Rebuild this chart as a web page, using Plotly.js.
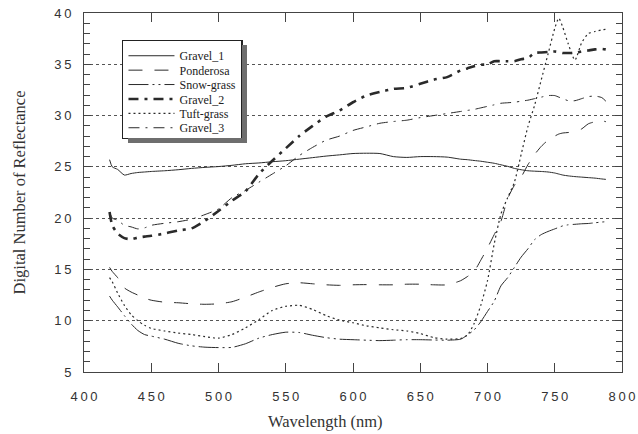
<!DOCTYPE html>
<html>
<head>
<meta charset="utf-8">
<script src="https://cdn.plot.ly/plotly-3.0.1.min.js"></script>
<style>
  html, body { margin: 0; padding: 0; background: #fff; }
  #chart { width: 638px; height: 434px; }
  .legend-shadow { position: absolute; background: #6e6e6e; pointer-events: none; }
</style>
</head>
<body>
<div id="chart"></div>
<script>
// Common wavelength grid (nm)
var wavelength = [419, 421, 425, 430, 435, 440, 445, 450, 460, 470, 480, 490, 500, 510, 520, 530, 540, 550, 560, 570, 580, 590, 600, 610, 620, 630, 640, 650, 660, 670, 680, 685, 690, 695, 700, 705, 710, 715, 720, 725, 730, 735, 740, 745, 750, 753, 756, 760, 765, 770, 775, 780, 785, 788];

var gravel1 = [25.7, 25.0, 24.75, 24.2, 24.35, 24.45, 24.5, 24.55, 24.62, 24.72, 24.85, 24.95, 25.03, 25.15, 25.3, 25.38, 25.5, 25.6, 25.75, 25.9, 26.05, 26.17, 26.3, 26.33, 26.3, 26.0, 25.92, 26.0, 26.0, 25.95, 25.75, 25.7, 25.62, 25.55, 25.45, 25.35, 25.2, 25.05, 24.85, 24.72, 24.62, 24.58, 24.55, 24.5, 24.4, 24.3, 24.2, 24.12, 24.05, 24.0, 23.95, 23.9, 23.82, 23.78];

var ponderosa = [15.2, 14.8, 14.2, 13.2, 12.8, 12.5, 12.2, 12.0, 11.8, 11.75, 11.65, 11.6, 11.65, 11.85, 12.3, 12.8, 13.25, 13.6, 13.7, 13.6, 13.5, 13.45, 13.5, 13.52, 13.5, 13.5, 13.56, 13.56, 13.5, 13.5, 13.9, 14.3, 14.8, 15.9, 17.1, 18.4, 19.7, 21.9, 23.2, 24.0, 25.2, 26.2, 27.0, 27.6, 28.0, 28.2, 28.3, 28.35, 28.45, 28.7, 29.2, 29.4, 29.5, 29.4];

var snowGrass = [12.4, 12.0, 11.35, 10.5, 9.7, 9.05, 8.65, 8.5, 8.2, 7.8, 7.55, 7.42, 7.38, 7.4, 7.75, 8.3, 8.65, 8.88, 8.85, 8.58, 8.35, 8.2, 8.15, 8.1, 8.06, 8.1, 8.15, 8.15, 8.12, 8.1, 8.2, 8.6, 9.1, 9.9, 10.9, 11.9, 13.4, 14.2, 15.2, 16.2, 17.0, 17.9, 18.4, 18.7, 18.95, 19.1, 19.25, 19.35, 19.4, 19.45, 19.48, 19.55, 19.62, 19.65];

var gravel2 = [20.6, 19.3, 18.5, 18.05, 17.95, 18.1, 18.2, 18.28, 18.5, 18.8, 19.0, 19.75, 20.7, 21.7, 22.6, 24.3, 25.6, 26.8, 28.0, 29.0, 29.9, 30.5, 31.3, 31.95, 32.3, 32.6, 32.7, 33.1, 33.5, 33.75, 34.4, 34.6, 34.8, 34.95, 35.0, 35.3, 35.3, 35.3, 35.3, 35.5, 35.6, 36.1, 36.15, 36.2, 36.25, 36.2, 36.1, 36.1, 36.1, 36.25, 36.35, 36.45, 36.5, 36.45];

var tuftGrass = [14.2, 13.8, 12.7, 11.5, 10.6, 10.0, 9.55, 9.25, 9.0, 8.8, 8.65, 8.45, 8.3, 8.65, 9.3, 10.1, 11.0, 11.4, 11.5, 11.1, 10.5, 10.05, 9.8, 9.5, 9.3, 9.12, 9.0, 8.75, 8.35, 8.2, 8.26, 8.6, 9.7, 11.5, 13.9, 17.5, 20.4, 22.0, 23.5, 26.2, 28.9, 31.0, 33.5, 36.0, 38.5, 39.5, 38.6, 37.0, 35.4, 37.1, 38.0, 38.2, 38.35, 38.4];

var gravel3 = [20.6, 20.0, 19.8, 19.3, 19.15, 18.95, 19.05, 19.3, 19.5, 19.65, 19.9, 20.35, 20.9, 22.0, 22.7, 23.5, 24.3, 25.1, 26.1, 26.9, 27.6, 28.0, 28.55, 28.9, 29.25, 29.42, 29.55, 29.8, 30.0, 30.2, 30.4, 30.5, 30.6, 30.75, 30.9, 31.05, 31.2, 31.25, 31.3, 31.4, 31.5, 31.65, 31.8, 31.95, 31.95, 31.8, 31.65, 31.45, 31.45, 31.65, 31.85, 31.9, 31.75, 31.4];

var seriesNames = ["Gravel_1", "Ponderosa", "Snow-grass", "Gravel_2", "Tuft-grass", "Gravel_3"];
var seriesValues = [gravel1, ponderosa, snowGrass, gravel2, tuftGrass, gravel3];
var xTickVals = [400, 450, 500, 550, 600, 650, 700, 750, 800];
var yTickVals = [5, 10, 15, 20, 25, 30, 35, 40];

var SERIF = "Liberation Serif";
var SANS = "Liberation Sans";

var styles = [
  { width: 1,   dash: "solid" },
  { width: 1,   dash: "14px,12px" },
  { width: 1,   dash: "20px,4px,2px,4px,2px,4px" },
  { width: 2.6, dash: "10px,6px,3px,6px" },
  { width: 1.2, dash: "2px,3px" },
  { width: 1,   dash: "11px,6px,2px,6px" }
];

function spaced(v) { return String(v).split("").join("\u2009"); }

var traces = seriesNames.map(function (name, i) {
  return {
    type: "scatter", mode: "lines", name: name,
    x: wavelength, y: seriesValues[i],
    line: { color: "#2a2a2a", width: styles[i].width, dash: styles[i].dash, shape: "spline", smoothing: 0.6 },
    hoverinfo: "skip"
  };
});

var layout = {
  width: 638, height: 434,
  margin: { l: 84, r: 16, t: 13, b: 62 },
  paper_bgcolor: "#fff", plot_bgcolor: "#fff",
  font: { family: SANS },
  showlegend: true,
  legend: {
    x: 0.0706, y: 0.9255, xanchor: "left", yanchor: "top",
    bgcolor: "#fff", bordercolor: "#222", borderwidth: 1.5,
    font: { family: SERIF, size: 12, color: "#222" },
    itemwidth: 46, tracegroupgap: 0
  },
  xaxis: {
    range: [400, 800], tickmode: "array", tickvals: xTickVals, ticktext: xTickVals.map(spaced),
    ticks: "inside", ticklen: 9, tickcolor: "#444", showline: true, linecolor: "#444", linewidth: 1,
    mirror: "ticks", showgrid: false, zeroline: false, ticklabelstandoff: 12,
    tickfont: { family: SANS, size: 13, color: "#333" }
  },
  yaxis: {
    range: [5, 40], tickmode: "array", tickvals: yTickVals, ticktext: yTickVals.map(spaced),
    ticks: "inside", ticklen: 7, tickcolor: "#444", showline: true, linecolor: "#444", linewidth: 1,
    mirror: "ticks", showgrid: true, gridcolor: "#555", griddash: "dot", gridwidth: 1, zeroline: false,
    minor: { dtick: 1, ticks: "inside", ticklen: 6, tickcolor: "#444", showgrid: false },
    ticklabelstandoff: 9,
    tickfont: { family: SANS, size: 13, color: "#333" },
    title: { text: "Digital Number of Reflectance", standoff: 24,
      font: { family: SERIF, size: 16.5, color: "#333" } }
  },
  annotations: [{
    text: "Wavelength (nm)", xref: "paper", yref: "paper", x: 0.448, y: -0.137,
    xanchor: "center", yanchor: "middle", showarrow: false,
    font: { family: SERIF, size: 16.5, color: "#333" }
  }]
};

var STEP = 14.4;      // compact legend row pitch
var SHADOW = 5;       // legend drop-shadow offset (px)

function parseT(el) {
  var m = /translate\(\s*([-\d.]+)[ ,]+([-\d.]+)\s*\)/.exec(el.getAttribute("transform") || "");
  return m ? [parseFloat(m[1]), parseFloat(m[2])] : [0, 0];
}

function addStrip(left, top, width, height) {
  var d = document.createElement("div");
  d.className = "legend-shadow";
  d.style.left = left + "px";
  d.style.top = top + "px";
  d.style.width = width + "px";
  d.style.height = height + "px";
  document.body.appendChild(d);
}

Plotly.newPlot("chart", traces, layout, { displayModeBar: false, staticPlot: true }).then(function (gd) {
  try {
    var items = gd.querySelectorAll(".legend .traces");
    var bg = gd.querySelector(".legend .bg");
    if (!items.length || !bg) return;
    var first = parseT(items[0]);
    var oldH = parseFloat(bg.getAttribute("height"));
    var y0 = first[1];
    var newH = y0 + (items.length - 1) * STEP + 10;

    items.forEach(function (el, i) {
      var p = parseT(el);
      el.setAttribute("transform", "translate(" + p[0] + "," + (y0 + i * STEP) + ")");
    });
    bg.setAttribute("height", newH);
    gd.querySelectorAll("clipPath rect").forEach(function (r) {
      if (Math.abs(parseFloat(r.getAttribute("height")) - oldH) < 4) r.setAttribute("height", newH);
    });

    // grey offset shadow as two strips along the right and bottom edges of the box
    var br = bg.getBoundingClientRect();
    var sx = window.scrollX || 0, sy = window.scrollY || 0;
    addStrip(br.right + sx, br.top + SHADOW + sy, SHADOW, br.height);
    addStrip(br.left + SHADOW + sx, br.bottom + sy, br.width, SHADOW);
  } catch (e) { /* keep the default legend if anything fails */ }
});
</script>
</body>
</html>
